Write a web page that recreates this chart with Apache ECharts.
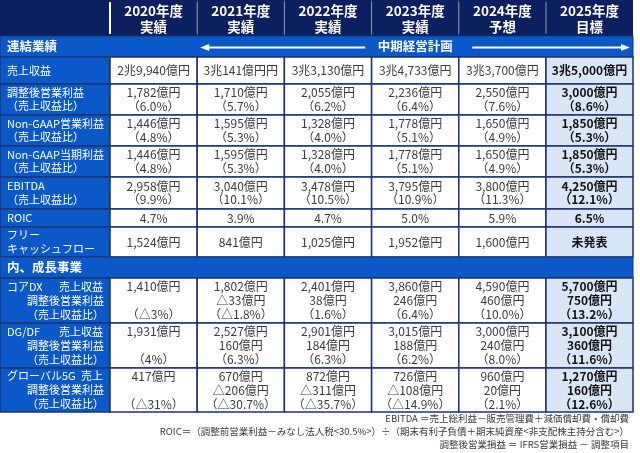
<!DOCTYPE html>
<html><head><meta charset="utf-8">
<script src="https://cdn.jsdelivr.net/npm/echarts@6/dist/echarts.min.js"></script>
<style>html,body{margin:0;padding:0;background:#fff}#c{width:640px;height:453px}</style>
</head><body><div id="c"></div>
<script>
// ---- data ----
const columns = ['2020年度\n実績','2021年度\n実績','2022年度\n実績','2023年度\n実績','2024年度\n予想','2025年度\n目標'];
const sales        = ['2兆9,940億円','3兆141億円円','3兆3,130億円','3兆4,733億円','3兆3,700億円','3兆5,000億円'];
const adjOpIncome  = ['1,782億円','1,710億円','2,055億円','2,236億円','2,550億円','3,000億円'];
const adjOpMargin  = ['6.0%','5.7%','6.2%','6.4%','7.6%','8.6%'];
const ngOpIncome   = ['1,446億円','1,595億円','1,328億円','1,778億円','1,650億円','1,850億円'];
const ngOpMargin   = ['4.8%','5.3%','4.0%','5.1%','4.9%','5.3%'];
const ngNetIncome  = ['1,446億円','1,595億円','1,328億円','1,778億円','1,650億円','1,850億円'];
const ngNetMargin  = ['4.8%','5.3%','4.0%','5.1%','4.9%','5.3%'];
const ebitda       = ['2,958億円','3,040億円','3,478億円','3,795億円','3,800億円','4,250億円'];
const ebitdaMargin = ['9.9%','10.1%','10.5%','10.9%','11.3%','12.1%'];
const roic         = ['4.7%','3.9%','4.7%','5.0%','5.9%','6.5%'];
const fcf          = ['1,524億円','841億円','1,025億円','1,952億円','1,600億円','未発表'];
const coreDxSales  = ['1,410億円','1,802億円','2,401億円','3,860億円','4,590億円','5,700億円'];
const coreDxProfit = ['','△33億円','38億円','246億円','460億円','750億円'];
const coreDxMargin = ['△3%','△1.8%','1.6%','6.4%','10.0%','13.2%'];
const dgdfSales    = ['1,931億円','2,527億円','2,901億円','3,015億円','3,000億円','3,100億円'];
const dgdfProfit   = ['','160億円','184億円','188億円','240億円','360億円'];
const dgdfMargin   = ['4%','6.3%','6.3%','6.2%','8.0%','11.6%'];
const g5Sales      = ['417億円','670億円','872億円','726億円','960億円','1,270億円'];
const g5Profit     = ['','△206億円','△311億円','△108億円','20億円','160億円'];
const g5Margin     = ['△31%','△30.7%','△35.7%','△14.9%','2.1%','12.6%'];
const footnotes = [
  'EBITDA ＝売上総利益－販売管理費＋減価償却費・償却費',
  'ROIC＝（調整前営業利益－みなし法人税<30.5%>）÷（期末有利子負債＋期末純資産<非支配株主持分含む>）',
  '調整後営業損益 ＝ IFRS営業損益 － 調整項目'
];

// ---- layout (axis units) ----
const colEdges = [0,110,197.2,284.4,371.6,458.8,546,633];
const rowEdges = [0,36,57,84,115,146,177,209,227,257,278,323,368,412];

const pct = a => a.map(v => v === '' ? '' : '（' + v + '）');
const rowDefs = [
  {type:'header'},
  {type:'band', label:'連結業績', plan:'中期経営計画'},
  {type:'data', label:'売上収益', lines:[sales]},
  {type:'data', label:'調整後営業利益\n（売上収益比）', lines:[adjOpIncome, pct(adjOpMargin)]},
  {type:'data', label:'Non-GAAP営業利益\n（売上収益比）', lines:[ngOpIncome, pct(ngOpMargin)]},
  {type:'data', label:'Non-GAAP当期利益\n（売上収益比）', lines:[ngNetIncome, pct(ngNetMargin)]},
  {type:'data', label:'EBITDA\n（売上収益比）', lines:[ebitda, pct(ebitdaMargin)]},
  {type:'data', label:'ROIC', lines:[roic]},
  {type:'data', label:'フリー\nキャッシュフロー', lines:[fcf]},
  {type:'band', label:'内、成長事業'},
  {type:'seg', name:'コアDX', first:'売上収益', lines:[coreDxSales, coreDxProfit, pct(coreDxMargin)]},
  {type:'seg', name:'DG/DF', first:'売上収益', lines:[dgdfSales, dgdfProfit, pct(dgdfMargin)]},
  {type:'seg', name:'グローバル5G', first:'売上', lines:[g5Sales, g5Profit, pct(g5Margin)]}
];

const FONT = '"Noto Sans CJK JP","Noto Sans",sans-serif';
const NAVY = '#0c1f5e', BLUE = '#0b58c9', LINE = '#1b3470', TARGET = '#d9e6f8';

const data = [];
rowDefs.forEach((d, r) => {
  if (d.type === 'band') data.push([-1, r]);
  else for (let c = 0; c <= 6; c++) data.push([c, r]);
});

function txt(x, y, text, o) {
  return {type:'text', x:x, y:y, silent:true, style:Object.assign({
    text:text, fill:'#333', fontSize:12, fontFamily:FONT, align:'center', verticalAlign:'middle', lineHeight:14
  }, o || {})};
}

function renderItem(params, api) {
  const c = api.value(0), r = api.value(1);
  const d = rowDefs[r];
  const xl = c < 0 ? colEdges[0] : colEdges[c];
  const xr = c < 0 ? colEdges[7] : colEdges[c + 1];
  const p0 = api.coord([xl, rowEdges[r]]), p1 = api.coord([xr, rowEdges[r + 1]]);
  const x = p0[0], y = p0[1], w = p1[0] - p0[0], h = p1[1] - p0[1];
  const cx = x + w / 2, cy = y + h / 2;
  const ch = [];
  if (d.type === 'header') {
    ch.push({type:'rect', shape:{x:x, y:y, width:w, height:h}, style:{fill:NAVY}});
    if (c >= 1) {
      ch.push({type:'line', shape:{x1:x, y1:y + 2, x2:x, y2:y + h - 2},
        style:{stroke: c === 1 ? '#ffffff' : '#8a96b8', lineWidth: c === 1 ? 2 : 1}});
      ch.push(txt(cx, cy + 1, columns[c - 1], {fill:'#fff', fontSize:13.5, fontWeight:'bold', lineHeight:16}));
    }
  } else if (d.type === 'band') {
    ch.push({type:'rect', shape:{x:x, y:y, width:w, height:h}, style:{fill:BLUE, stroke:LINE, lineWidth:1}});
    ch.push(txt(x + 7, cy, d.label, {fill:'#fff', fontSize:12.5, fontWeight:'bold', align:'left'}));
    if (d.plan) {
      const a0 = api.coord([colEdges[2], 0])[0] + 3;
      const mid = (api.coord([colEdges[4], 0])[0] + api.coord([colEdges[5], 0])[0]) / 2;
      const a1 = api.coord([colEdges[7], 0])[0] - 3;
      ch.push(txt(mid, cy, d.plan, {fill:'#fff', fontSize:12.5, fontWeight:'bold'}));
      ch.push({type:'line', shape:{x1:a0 + 6, y1:cy + 1, x2:mid - 50, y2:cy + 1}, style:{stroke:'#fff', lineWidth:2}});
      ch.push({type:'polygon', shape:{points:[[a0, cy + 1], [a0 + 9, cy - 2.5], [a0 + 9, cy + 4.5]]}, style:{fill:'#fff'}});
      ch.push({type:'line', shape:{x1:mid + 57, y1:cy + 1, x2:a1 - 6, y2:cy + 1}, style:{stroke:'#fff', lineWidth:2}});
      ch.push({type:'polygon', shape:{points:[[a1, cy + 1], [a1 - 9, cy - 2.5], [a1 - 9, cy + 4.5]]}, style:{fill:'#fff'}});
    }
  } else {
    if (c === 0) {
      ch.push({type:'rect', shape:{x:x, y:y, width:w, height:h}, style:{fill:BLUE, stroke:LINE, lineWidth:1.5}});
      if (d.type === 'data') {
        ch.push(txt(x + 7, cy, d.label, {fill:'#fff', fontSize:11, align:'left', lineHeight:13.5}));
      } else {
        ch.push(txt(x + 7, cy - 14, d.name, {fill:'#fff', fontSize:11, align:'left'}));
        ch.push(txt(x + w - 7, cy - 14, d.first, {fill:'#fff', fontSize:11, align:'right'}));
        ch.push(txt(x + w - 6, cy + 7, '調整後営業利益\n（売上収益比）', {fill:'#fff', fontSize:11, align:'right'}));
      }
    } else {
      const target = c === 6;
      ch.push({type:'rect', shape:{x:x, y:y, width:w, height:h}, style:{fill: target ? TARGET : '#fff', stroke:LINE, lineWidth:1.5}});
      const t = d.lines.map(a => a[c - 1]).join('\n');
      ch.push(txt(cx, cy, t, {
        fill: target ? '#111' : '#3c3c3c', fontWeight: target ? 'bold' : 'normal',
        lineHeight: d.type === 'seg' ? 14 : 13.5
      }));
    }
  }
  return {type:'group', children:ch};
}

const chart = echarts.init(document.getElementById('c'), null, {renderer:'canvas'});
chart.setOption({
  backgroundColor:'#fff',
  animation:false,
  title: footnotes.map((t, i) => ({
    text:t, right:11, top:414 + i * 13, padding:0,
    textStyle:{fontSize:9.5, fontWeight:'normal', color:'#3a3a3a', fontFamily:FONT}
  })),
  grid:{left:0, top:0, width:633, height:412},
  xAxis:{type:'value', min:0, max:633, show:false},
  yAxis:{type:'value', min:0, max:412, inverse:true, show:false},
  series:[{
    type:'custom', renderItem:renderItem, data:data, clip:false, silent:true,
    encode:{x:0, y:1}
  }]
});
</script>
</body></html>
